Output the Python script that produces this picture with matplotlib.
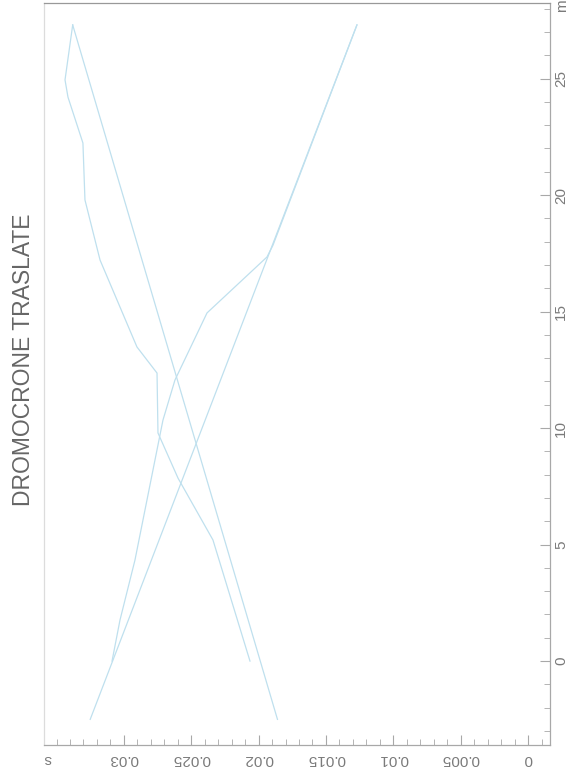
import matplotlib
matplotlib.use("Agg")
import matplotlib.pyplot as plt
from matplotlib.ticker import FixedLocator, MultipleLocator, FuncFormatter

plt.rcParams['font.family'] = ['Liberation Sans', 'DejaVu Sans']

# Positions along the spread (m) and shifted travel times (s)
m_straight = [-2.5, 27.3]
t_straight_fwd = [0.0325, 0.0127]
t_straight_rev = [0.0186, 0.0338]

m_fwd = [27.3, 17.85, 17.34, 14.94, 12.06, 10.34, 4.33, 1.76, 0.0]
t_fwd = [0.0127, 0.01893, 0.01938, 0.02383, 0.02621, 0.0271, 0.02918, 0.03029, 0.03088]

m_rev = [27.3, 24.94, 24.2, 22.23, 19.79, 17.21, 13.48, 12.36, 9.79, 7.85, 5.2, 0.0]
t_rev = [0.0338, 0.03437, 0.03415, 0.03304, 0.03289, 0.03177, 0.02903, 0.02754,
         0.02747, 0.02598, 0.02339, 0.02064]

s_ticks = [0, 0.005, 0.01, 0.015, 0.02, 0.025, 0.03]
m_ticks = [0, 5, 10, 15, 20, 25]

W, H = 576, 778
fig = plt.figure(figsize=(W / 100, H / 100), dpi=100)
ax = fig.add_axes([44 / W, 1 - 745 / H, (550 - 44) / W, (745 - 3) / H])

line_col = '#bfe0ee'
for t, m in [(t_straight_fwd, m_straight), (t_straight_rev, m_straight),
             (t_fwd, m_fwd), (t_rev, m_rev)]:
    ax.plot(t, m, color=line_col, lw=0.9)

ax.set_xlim(0.03593, -0.00163)
ax.set_ylim(-3.6, 28.24)

axis_col = '#a8a8a8'
for sp in ax.spines.values():
    sp.set_color(axis_col)
    sp.set_linewidth(0.9)
ax.spines['left'].set_color('#dcdcdc')
ax.spines['top'].set_color('#999999')

ax.xaxis.set_major_locator(FixedLocator(s_ticks))
ax.xaxis.set_minor_locator(MultipleLocator(0.001))
ax.xaxis.set_major_formatter(FuncFormatter(lambda v, p: f"{v:g}"))
ax.yaxis.set_major_locator(FixedLocator(m_ticks))
ax.yaxis.set_minor_locator(MultipleLocator(1))
ax.yaxis.set_major_formatter(FuncFormatter(lambda v, p: f"{v:g}"))

ax.tick_params(axis='x', which='both', direction='in', bottom=True, top=False,
               colors=axis_col, labelcolor='#7a7a7a', labelsize=11, pad=5)
ax.tick_params(axis='x', which='major', length=7)
ax.tick_params(axis='x', which='minor', length=4)
ax.tick_params(axis='y', which='both', direction='in', left=False, right=True,
               labelleft=False, labelright=True,
               colors=axis_col, labelcolor='#7a7a7a', labelsize=11, pad=3)
ax.tick_params(axis='y', which='major', length=7)
ax.tick_params(axis='y', which='minor', length=4)
for lab in ax.get_xticklabels():
    lab.set_rotation(180)
for lab in ax.get_yticklabels():
    lab.set_rotation(90)
    lab.set_va('center')

fig.text(48 / W, 1 - 759 / H, "s", rotation=180, ha='center', va='center',
         fontsize=11, color='#7a7a7a')
fig.text(562 / W, 1 - 6 / H, "m", rotation=90, ha='center', va='center',
         fontsize=11, color='#7a7a7a')
fig.text(24 / W, 1 - 360 / H, "DROMOCRONE TRASLATE", rotation=90,
         ha='center', va='center', fontsize=16.5, color='#666666')

fig.savefig("out.png", dpi=100)
